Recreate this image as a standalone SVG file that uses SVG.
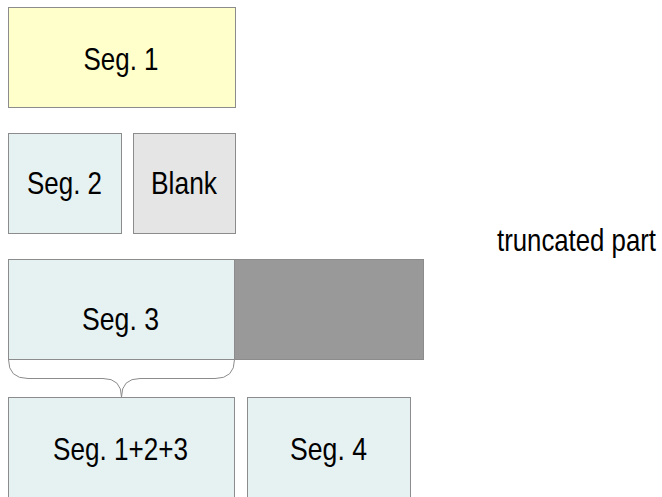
<svg xmlns="http://www.w3.org/2000/svg" width="662" height="497" viewBox="0 0 662 497">
<style>
.box{stroke:#8c8c8c;stroke-width:1}
.seg{fill:#e6f2f2}
.t{font-family:"Liberation Sans Narrow","Liberation Sans",Arial,sans-serif;font-size:32px;fill:#000;text-anchor:middle}
</style>
<rect width="662" height="497" fill="#fff"/>
<g id="seg1"><rect class="box" x="8.5" y="7.5" width="227" height="100" fill="#ffffcc"/><text class="t" x="121" y="70" textLength="75" lengthAdjust="spacingAndGlyphs">Seg. 1</text></g>
<g id="seg2"><rect class="box seg" x="8.5" y="133.5" width="113" height="100"/><text class="t" x="64.5" y="194" textLength="75" lengthAdjust="spacingAndGlyphs">Seg. 2</text></g>
<g id="blank"><rect class="box" x="133.5" y="133.5" width="102" height="100" fill="#e5e5e5" stroke="#c8c8c8"/><text class="t" x="184" y="194" textLength="66" lengthAdjust="spacingAndGlyphs">Blank</text></g>
<g id="seg3"><rect class="box seg" x="8.5" y="259.5" width="226" height="100"/><text class="t" x="120.5" y="330" textLength="77" lengthAdjust="spacingAndGlyphs">Seg. 3</text></g>
<g id="dark"><rect class="box" x="234.5" y="259.5" width="189" height="100" fill="#999999"/></g>
<g id="seg123"><rect class="box seg" x="8.5" y="397.5" width="226" height="120"/><text class="t" x="120.5" y="460" textLength="135" lengthAdjust="spacingAndGlyphs">Seg. 1+2+3</text></g>
<g id="seg4"><rect class="box seg" x="247.5" y="397.5" width="163" height="120"/><text class="t" x="328.5" y="460" textLength="77" lengthAdjust="spacingAndGlyphs">Seg. 4</text></g>
<g id="label"><text class="t" style="text-anchor:start" x="497" y="251" textLength="159" lengthAdjust="spacingAndGlyphs">truncated part</text></g>
<g id="connectors"><path d="M8.5,359.5 Q8.5,378.5 28,378.5 L103,378.5 Q121.5,378.5 121.5,397 Q121.5,378.5 140,378.5 L215,378.5 Q234.5,378.5 234.5,359.5" fill="none" stroke="#8c8c8c" stroke-width="1"/></g>
</svg>
